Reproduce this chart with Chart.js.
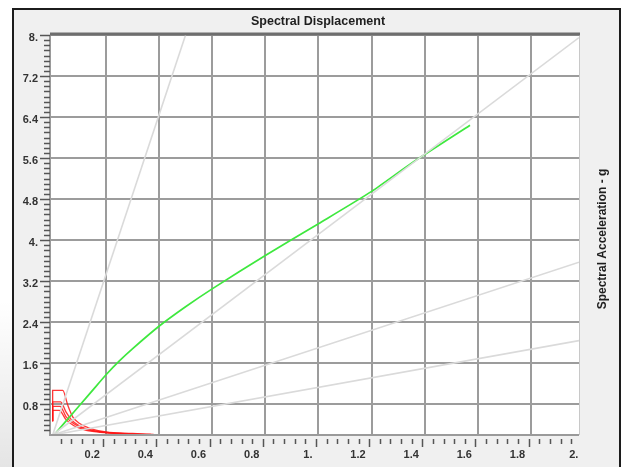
<!DOCTYPE html>
<html>
<head>
<meta charset="utf-8">
<script src="https://cdn.jsdelivr.net/npm/chart.js@4.4.0/dist/chart.umd.min.js"></script>
<style>
  html, body { margin: 0; padding: 0; background: #ffffff; }
  canvas { display: block; }
</style>
</head>
<body>
<canvas id="adrs" width="624" height="467"></canvas>
<script>
// Capacity curve (spectral displacement, spectral acceleration in g)
const capacitySd = [0.005, 0.05, 0.10, 0.15, 0.20, 0.25, 0.30, 0.40, 0.50, 0.60, 0.80, 1.00, 1.20, 1.35, 1.57];
const capacitySa = [0.20, 0.47, 0.77, 1.07, 1.37, 1.64, 1.88, 2.32, 2.70, 3.05, 3.70, 4.32, 4.95, 5.50, 6.24];

// Demand spectra, one list per damping level
const demandSd = [
  [0, 0, 0.038, 0.057, 0.076, 0.10, 0.14, 0.20, 0.30, 0.38],
  [0, 0, 0.030, 0.050, 0.070, 0.10, 0.15, 0.20, 0.30, 0.37],
  [0, 0, 0.028, 0.050, 0.080, 0.12, 0.18, 0.28, 0.36],
  [0, 0, 0.025, 0.050, 0.080, 0.12, 0.18, 0.26, 0.34]
];
const demandSa = [
  [0.47, 1.07, 1.07, 0.78, 0.55, 0.43, 0.33, 0.26, 0.23, 0.21],
  [0.47, 0.845, 0.845, 0.65, 0.50, 0.38, 0.29, 0.25, 0.22, 0.21],
  [0.47, 0.76, 0.76, 0.56, 0.42, 0.32, 0.26, 0.22, 0.205],
  [0.47, 0.68, 0.68, 0.50, 0.38, 0.30, 0.25, 0.22, 0.205]
];

// Constant-period lines: common start point and individual end points
const periodStartSd = 0;
const periodStartSa = 0.2;
const periodEndSd = [0.50, 1.98, 1.98, 1.98];
const periodEndSa = [8.00, 7.95, 3.57, 2.04];

// Axis tick values
const xTickValues = [0.2, 0.4, 0.6, 0.8, 1.0, 1.2, 1.4, 1.6, 1.8, 2.0];
const yTickValues = [0.8, 1.6, 2.4, 3.2, 4.0, 4.8, 5.6, 6.4, 7.2, 8.0];

const X_MIN = -0.01, X_MAX = 1.98, Y_MIN = 0.2, Y_MAX = 8;
const FONT = "'Liberation Sans', Arial, sans-serif";

const toPoints = (xs, ys) => xs.map((x, i) => ({ x: x, y: ys[i] }));
const tickText = v => Number.isInteger(v) ? v + '.' : String(v);

const datasets = [];
periodEndSd.forEach((sd, i) => {
  datasets.push({
    data: [{ x: periodStartSd, y: periodStartSa }, { x: sd, y: periodEndSa[i] }],
    borderColor: '#dadada', borderWidth: 1.6, pointRadius: 0, showLine: true
  });
});
datasets.push({
  data: toPoints(capacitySd, capacitySa),
  borderColor: '#3ee83e', borderWidth: 1.7, pointRadius: 0, showLine: true, tension: 0.2
});
demandSd.forEach((sds, i) => {
  datasets.push({
    data: toPoints(sds, demandSa[i]),
    borderColor: 'rgba(255,20,20,0.85)', borderWidth: 1.3, pointRadius: 0, showLine: true,
    cubicInterpolationMode: 'monotone'
  });
});

// Window frame, plot background and the two axis titles
const framePlugin = {
  id: 'frame',
  beforeDraw(chart) {
    const { ctx, chartArea: a } = chart;
    ctx.save();
    ctx.fillStyle = '#ffffff';
    ctx.fillRect(0, 0, 624, 467);
    const g = ctx.createLinearGradient(0, 300, 0, 467);
    g.addColorStop(0, 'rgba(0,0,0,0)');
    g.addColorStop(1, 'rgba(0,0,0,0.10)');
    ctx.fillStyle = g;
    ctx.fillRect(0, 300, 13, 167);
    ctx.fillStyle = '#f0f0f0';
    ctx.fillRect(14, 9, 606, 470);
    ctx.strokeStyle = '#1c1c1c';
    ctx.lineWidth = 2;
    ctx.strokeRect(13, 9, 607, 470);
    ctx.fillStyle = '#ffffff';
    ctx.fillRect(a.left, a.top, a.right - a.left, a.bottom - a.top);
    ctx.restore();
  },
  afterDraw(chart) {
    const { ctx, chartArea: a, scales } = chart;
    const xs = scales.x, ys = scales.y;
    ctx.save();
    // plot border
    ctx.strokeStyle = '#c8c8c8';
    ctx.lineWidth = 1;
    ctx.beginPath();
    ctx.moveTo(a.right + 0.5, a.top);
    ctx.lineTo(a.right + 0.5, a.bottom);
    ctx.stroke();
    ctx.strokeStyle = '#9a9a9a';
    ctx.lineWidth = 2;
    ctx.beginPath();
    ctx.moveTo(a.left, a.top);
    ctx.lineTo(a.left, a.bottom);
    ctx.lineTo(a.right, a.bottom);
    ctx.stroke();
    ctx.strokeStyle = '#6e6e6e';
    ctx.lineWidth = 3;
    ctx.beginPath();
    ctx.moveTo(a.left, a.top - 1);
    ctx.lineTo(a.right + 1, a.top - 1);
    ctx.stroke();

    // tick marks
    ctx.strokeStyle = '#555555';
    ctx.lineWidth = 1.5;
    ctx.beginPath();
    for (let k = 3; k <= 80; k++) {
      const v = k / 10;
      const y = Math.round(ys.getPixelForValue(v)) + 0.5;
      const major = k % 8 === 0;
      ctx.moveTo(a.left - (major ? 10 : 6), y);
      ctx.lineTo(a.left, y);
    }
    for (let k = 1; k * 0.04 <= X_MAX; k++) {
      const v = k * 0.04;
      const x = Math.round(xs.getPixelForValue(v) - 2.5) + 0.5;
      const major = k % 5 === 0;
      ctx.moveTo(x, a.bottom + 4);
      ctx.lineTo(x, a.bottom + (major ? 12 : 9));
    }
    ctx.stroke();

    // axis titles
    ctx.fillStyle = '#1e1e1e';
    ctx.font = 'bold 12.5px ' + FONT;
    ctx.textAlign = 'center';
    ctx.textBaseline = 'middle';
    ctx.fillText('Spectral Displacement', 318, 22);
    ctx.translate(603, 239);
    ctx.rotate(-Math.PI / 2);
    ctx.font = 'bold 12px ' + FONT;
    ctx.fillText('Spectral Acceleration - g', 0, 0);
    ctx.restore();
  }
};

new Chart(document.getElementById('adrs'), {
  type: 'scatter',
  data: { datasets: datasets },
  options: {
    responsive: false,
    devicePixelRatio: 1,
    animation: false,
    layout: { padding: { top: 35, right: 45, left: 0, bottom: 0 } },
    plugins: { legend: { display: false }, tooltip: { enabled: false }, title: { display: false } },
    scales: {
      x: {
        type: 'linear', min: X_MIN, max: X_MAX, position: 'bottom',
        afterBuildTicks: s => { s.ticks = xTickValues.map(v => ({ value: v })); },
        afterFit: s => { s.height = 32; },
        border: { display: false },
        grid: {
          drawTicks: false, lineWidth: 2,
          color: c => (c.tick && c.tick.value > X_MAX) ? 'rgba(0,0,0,0)' : '#9c9c9c'
        },
        ticks: {
          callback: v => tickText(v), align: 'end', labelOffset: -6, padding: 13,
          autoSkip: false, maxRotation: 0, color: '#333333',
          font: { family: FONT, size: 11, weight: 'bold' }
        }
      },
      y: {
        type: 'linear', min: Y_MIN, max: Y_MAX, position: 'left',
        afterBuildTicks: s => { s.ticks = yTickValues.map(v => ({ value: v })); },
        afterFit: s => { s.width = 50; },
        border: { display: false },
        grid: { drawTicks: false, lineWidth: 2, color: '#9c9c9c' },
        ticks: {
          callback: v => tickText(v), padding: 12, labelOffset: 3,
          autoSkip: false, color: '#333333',
          font: { family: FONT, size: 11, weight: 'bold' }
        }
      }
    }
  },
  plugins: [framePlugin]
});
</script>
</body>
</html>
